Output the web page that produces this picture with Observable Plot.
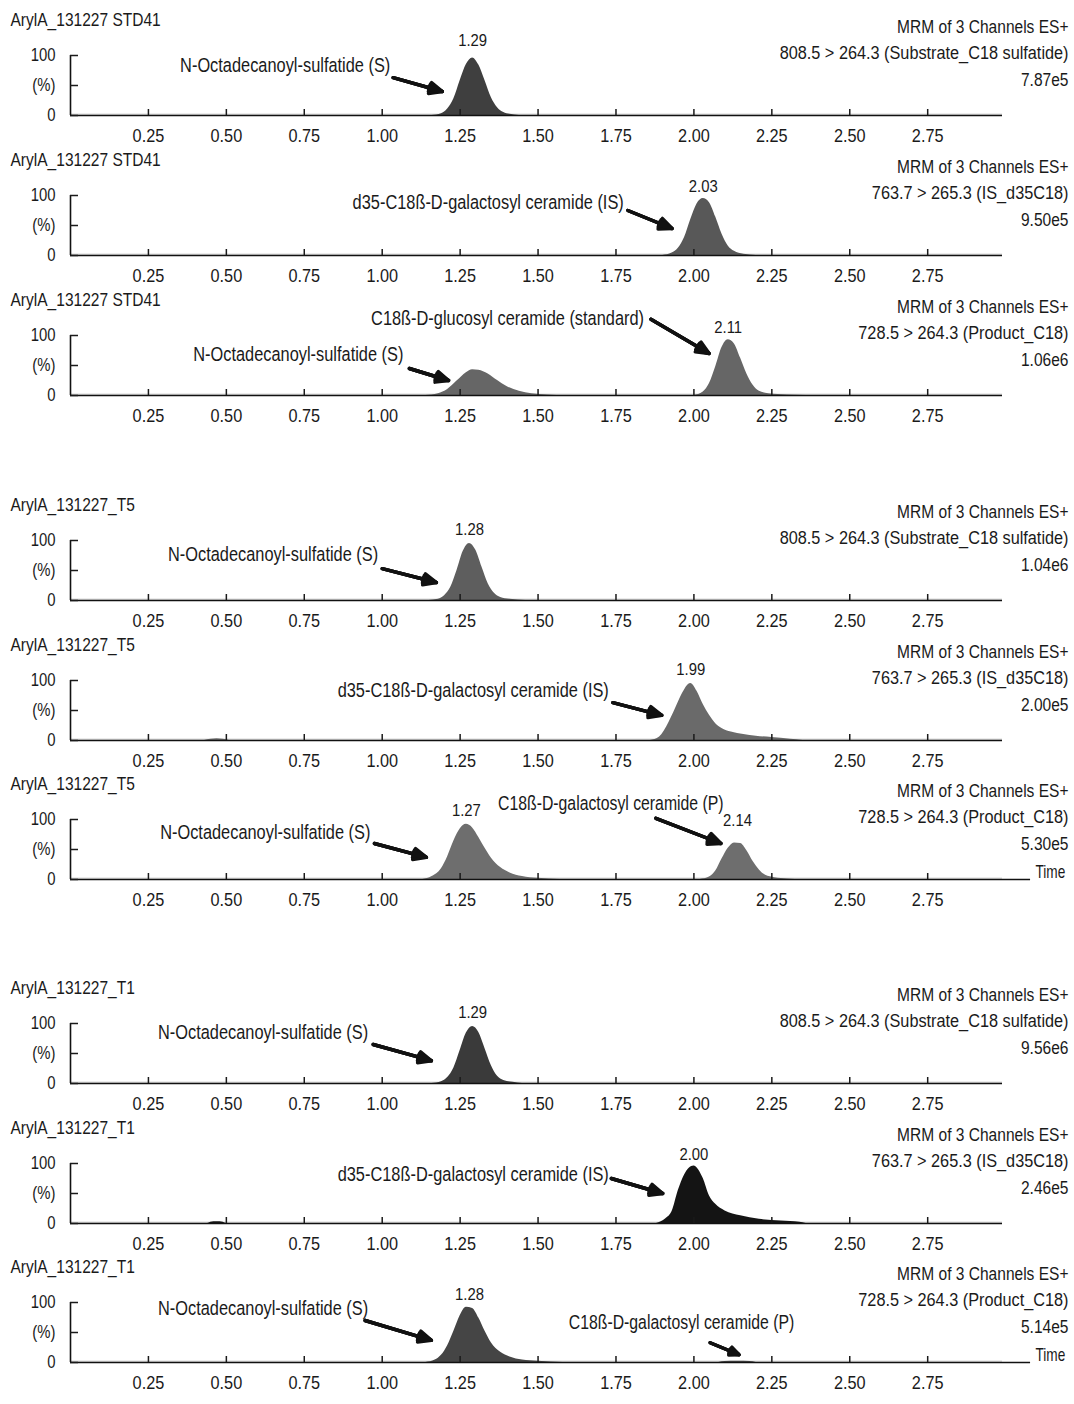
<!DOCTYPE html>
<html><head><meta charset="utf-8">
<script src="https://cdn.jsdelivr.net/npm/d3@7"></script>
<script src="https://cdn.jsdelivr.net/npm/@observablehq/plot@0.6"></script>
<style>
body{margin:0;background:#fff;}
#chart{position:relative;width:1074px;height:1404px;overflow:hidden;}
.panel{position:absolute;left:0;}
.panel svg{overflow:visible;}
</style></head><body><div id="chart"></div>
<script>
const FONT = '"Liberation Sans", Arial, sans-serif';

// ---- panel descriptors ----
const panelTitles = ["ArylA_131227 STD41","ArylA_131227 STD41","ArylA_131227 STD41",
  "ArylA_131227_T5","ArylA_131227_T5","ArylA_131227_T5",
  "ArylA_131227_T1","ArylA_131227_T1","ArylA_131227_T1"];
const channelHeader = "MRM of 3 Channels ES+";
const channelLines = ["808.5 > 264.3 (Substrate_C18 sulfatide)","763.7 > 265.3 (IS_d35C18)","728.5 > 264.3 (Product_C18)",
  "808.5 > 264.3 (Substrate_C18 sulfatide)","763.7 > 265.3 (IS_d35C18)","728.5 > 264.3 (Product_C18)",
  "808.5 > 264.3 (Substrate_C18 sulfatide)","763.7 > 265.3 (IS_d35C18)","728.5 > 264.3 (Product_C18)"];
const intensities = ["7.87e5","9.50e5","1.06e6","1.04e6","2.00e5","5.30e5","9.56e6","2.46e5","5.14e5"];
const peakColors = ["#3f3f3f","#585858","#666666","#5e5e5e","#6a6a6a","#6e6e6e","#3a3a3a","#141414","#454545"];
const panelTops = [0,140,280,485,625,764,968,1108,1247];
const showTime = [false,false,false,false,false,true,false,false,true];
const axisEnd = [2.99,2.99,2.99,2.99,2.99,3.08,2.99,2.99,3.08];

// ---- axes ----
const xTicks = [0.25,0.5,0.75,1.0,1.25,1.5,1.75,2.0,2.25,2.5,2.75];
const yTickValues = [0,50,100];
const yTickLabels = ["0","(%)","100"];
const baselineT = [0, 2.99];
const baselineLevel = 2.5;

// ---- chromatogram traces (time in min, relative intensity %) ----
const p1_t = [1.16,1.19,1.21,1.23,1.25,1.27,1.29,1.31,1.33,1.35,1.37,1.39,1.41,1.44];
const p1_v = [0,3,11,28,58,85,96,84,58,30,13,5,2,0];
const p2_t = [1.90,1.93,1.95,1.97,1.99,2.01,2.03,2.05,2.07,2.09,2.11,2.13,2.16,2.20];
const p2_v = [0,4,12,30,60,86,95,88,64,36,16,7,2,0];
const p3a_t = [1.14,1.18,1.21,1.24,1.27,1.29,1.31,1.34,1.37,1.40,1.44,1.48,1.53,1.56];
const p3a_v = [0,3,10,24,38,43,42,36,25,15,7,3,1,0];
const p3b_t = [2.00,2.03,2.05,2.07,2.09,2.11,2.13,2.15,2.17,2.19,2.21,2.24,2.30,2.36];
const p3b_v = [0,6,20,48,80,93,86,62,36,17,7,3,1,0];
const p4_t = [1.15,1.18,1.20,1.22,1.24,1.26,1.28,1.30,1.32,1.34,1.36,1.38,1.41,1.46];
const p4_v = [0,2,8,22,50,82,95,84,56,28,12,5,2,0];
const p5_t = [1.86,1.89,1.92,1.94,1.96,1.99,2.01,2.03,2.05,2.07,2.09,2.12,2.16,2.20,2.25,2.31,2.35];
const p5_v = [0,6,30,52,75,95,82,60,42,28,20,14,10,7,5,2,0];
const p5b_t = [0.43,0.45,0.47,0.49,0.51];
const p5b_v = [0,2,3,2,0];
const p6a_t = [1.13,1.16,1.19,1.21,1.23,1.25,1.27,1.29,1.31,1.33,1.35,1.38,1.41,1.45,1.50,1.57];
const p6a_v = [0,5,18,38,64,84,92,86,70,52,36,20,11,5,2,0];
const p6b_t = [2.02,2.05,2.07,2.09,2.11,2.13,2.15,2.17,2.19,2.21,2.23,2.26,2.30,2.35];
const p6b_v = [0,4,14,34,52,61,60,48,30,16,7,3,1,0];
const p7_t = [1.16,1.19,1.21,1.23,1.25,1.27,1.29,1.31,1.33,1.35,1.37,1.39,1.42,1.45];
const p7_v = [0,3,10,26,55,84,95,85,58,30,12,5,2,0];
const p8_t = [1.88,1.91,1.93,1.95,1.97,2.00,2.03,2.05,2.07,2.10,2.15,2.21,2.28,2.34,2.36];
const p8_v = [0,8,20,55,81,96,75,46,32,21,13,7,4,2,0];
const p8b_t = [0.44,0.46,0.48,0.50];
const p8b_v = [0,3,3,0];
const p9a_t = [1.14,1.17,1.19,1.21,1.23,1.25,1.27,1.29,1.31,1.33,1.35,1.38,1.41,1.45,1.50,1.58];
const p9a_v = [0,4,12,28,52,78,92,90,74,52,33,17,9,4,2,0];
const p9b_t = [2.08,2.10,2.14,2.18,2.20];
const p9b_v = [0,1.5,2,1.5,0];

const traces = [
  [[p1_t,p1_v]], [[p2_t,p2_v]], [[p3a_t,p3a_v],[p3b_t,p3b_v]],
  [[p4_t,p4_v]], [[p5_t,p5_v],[p5b_t,p5b_v]], [[p6a_t,p6a_v],[p6b_t,p6b_v]],
  [[p7_t,p7_v]], [[p8_t,p8_v],[p8b_t,p8b_v]], [[p9a_t,p9a_v],[p9b_t,p9b_v]]
];

// ---- peak retention-time labels ----
const peakPanel = [0,1,2,3,4,5,5,6,7,8];
const peakTime = [1.29,2.03,2.11,1.28,1.99,1.27,2.14,1.29,2.00,1.28];
const peakLabelV = [125,115,113,117,117,115,98,118,115,112];

// ---- annotations with arrows ----
const annPanel = [0,1,2,2,3,4,5,5,6,7,8,8];
const annLabel = ["N-Octadecanoyl-sulfatide (S)","d35-C18ß-D-galactosyl ceramide (IS)",
  "C18ß-D-glucosyl ceramide (standard)","N-Octadecanoyl-sulfatide (S)",
  "N-Octadecanoyl-sulfatide (S)","d35-C18ß-D-galactosyl ceramide (IS)",
  "N-Octadecanoyl-sulfatide (S)","C18ß-D-galactosyl ceramide (P)",
  "N-Octadecanoyl-sulfatide (S)","d35-C18ß-D-galactosyl ceramide (IS)",
  "N-Octadecanoyl-sulfatide (S)","C18ß-D-galactosyl ceramide (P)"];
const annTextT = [1.026,1.775,1.84,1.068,0.987,1.727,0.962,2.095,0.955,1.727,0.955,2.322];
const annTextV = [83,88,128,68,77,83,78,127,85,82,90,67];
const arrowT1 = [1.035,1.788,1.862,1.087,1.0,1.74,0.975,1.878,0.971,1.735,0.945,2.052];
const arrowV1 = [63,75,127,45,53,63,60,102,65,75,70,33];
const arrowT2 = [1.193,1.93,2.049,1.213,1.174,1.897,1.142,2.087,1.158,1.9,1.158,2.145];
const arrowV2 = [40,45,70,25,30,42,37,60,38,50,37,13];

const chart = document.getElementById("chart");
const W = 1074, H = 140, ML = 70, MR = 72, MT = 55, MB = 25;

// narrow the glyphs horizontally about each text's own anchor point
function condense(svg) {
  svg.querySelectorAll("text").forEach(t => {
    const g = t.closest("g[aria-label]");
    const role = g ? g.getAttribute("aria-label") : "";
    const s = t.textContent;
    let k = 0.84;
    if (role === "x-axis tick label") k = 0.88;
    else if (role === "y-axis tick label") k = 0.85;
    else if (/^\d\.\d\d$/.test(s)) k = 0.93;
    else if (s === "Time") k = 0.78;
    else if (s.includes(">")) k = 0.88;
    else if (s.includes("(P)")) k = 0.81;
    let tr = t.getAttribute("transform");
    if (!tr) {
      const xv = t.getAttribute("x");
      const ok = xv !== null && /^-?[\d.]+$/.test(xv);
      if (ok) t.removeAttribute("x");
      tr = `translate(${ok ? +xv : 0},0)`;
    }
    t.setAttribute("transform", `${tr} scale(${k},1)`);
  });
}

panelTitles.forEach((title, i) => {
  const rows = [];
  traces[i].forEach(([ts, vs], k) => ts.forEach((t, j) => rows.push({trace: k, t, v: vs[j]})));
  const peaks = peakPanel.map((p, j) => ({p, t: peakTime[j], v: peakLabelV[j]})).filter(d => d.p === i);
  const anns = annPanel.map((p, j) => ({p, label: annLabel[j], tx: annTextT[j], ty: annTextV[j],
    x1: arrowT1[j], y1: arrowV1[j], x2: arrowT2[j], y2: arrowV2[j]})).filter(d => d.p === i);

  const arrowOpts = {x1: "x1", y1: "y1", x2: "x2", y2: "y2", stroke: "#111", strokeWidth: 3.4, headLength: 6.2};
  const marks = [
    Plot.areaY(baselineT.map(t => ({t, v: baselineLevel})), {x: "t", y: "v", fill: "#dadada"}),
    Plot.areaY(rows, {x: "t", y: "v", z: "trace", fill: peakColors[i], curve: "monotone-x"}),
    Plot.ruleY([0], {x1: 0, x2: axisEnd[i], stroke: "#111", strokeWidth: 1.6}),
    Plot.ruleX([0], {y1: 0, y2: 100, stroke: "#111", strokeWidth: 1.6}),
    Plot.axisX({ticks: xTicks, tickFormat: d => d.toFixed(2), tickSize: -6, tickPadding: 19, fontSize: 18.5, strokeWidth: 1.5}),
    Plot.axisY({ticks: yTickValues, tickFormat: d => yTickLabels[yTickValues.indexOf(d)], tickSize: -8, tickPadding: 23, fontSize: 17.5, strokeWidth: 1.5}),
    Plot.text([title], {frameAnchor: "top-left", dx: -60, dy: -35, textAnchor: "start", lineAnchor: "middle", fontSize: 18.5}),
    Plot.text([channelHeader], {frameAnchor: "top-right", dx: 66, dy: -28, textAnchor: "end", lineAnchor: "middle", fontSize: 18.5}),
    Plot.text([channelLines[i]], {frameAnchor: "top-right", dx: 66, dy: -2, textAnchor: "end", lineAnchor: "middle", fontSize: 18.5}),
    Plot.text([intensities[i]], {frameAnchor: "top-right", dx: 66, dy: 25, textAnchor: "end", lineAnchor: "middle", fontSize: 18.5}),
    Plot.text(peaks, {x: "t", y: "v", text: d => d.t.toFixed(2), fontSize: 16, lineAnchor: "middle"}),
    Plot.text(anns, {x: "tx", y: "ty", text: "label", textAnchor: "end", lineAnchor: "middle", fontSize: 19.5}),
    Plot.arrow(anns, {...arrowOpts, headAngle: 48}),
    Plot.arrow(anns, {...arrowOpts, headAngle: 32}),
    Plot.arrow(anns, {...arrowOpts, headAngle: 16})
  ];
  if (showTime[i]) {
    marks.push(Plot.text(["Time"], {frameAnchor: "bottom-right", dx: 33, dy: -7, textAnchor: "start", lineAnchor: "middle", fontSize: 17.5}));
  }
  const svg = Plot.plot({
    width: W, height: H,
    marginLeft: ML, marginRight: MR, marginTop: MT, marginBottom: MB,
    x: {domain: [0, 2.99]},
    y: {domain: [0, 100]},
    style: {fontFamily: FONT, color: "#1a1a1a", background: "transparent", overflow: "visible"},
    marks
  });
  const div = document.createElement("div");
  div.className = "panel";
  div.style.top = panelTops[i] + "px";
  div.appendChild(svg);
  chart.appendChild(div);
  condense(svg);
});
</script>
</body></html>
